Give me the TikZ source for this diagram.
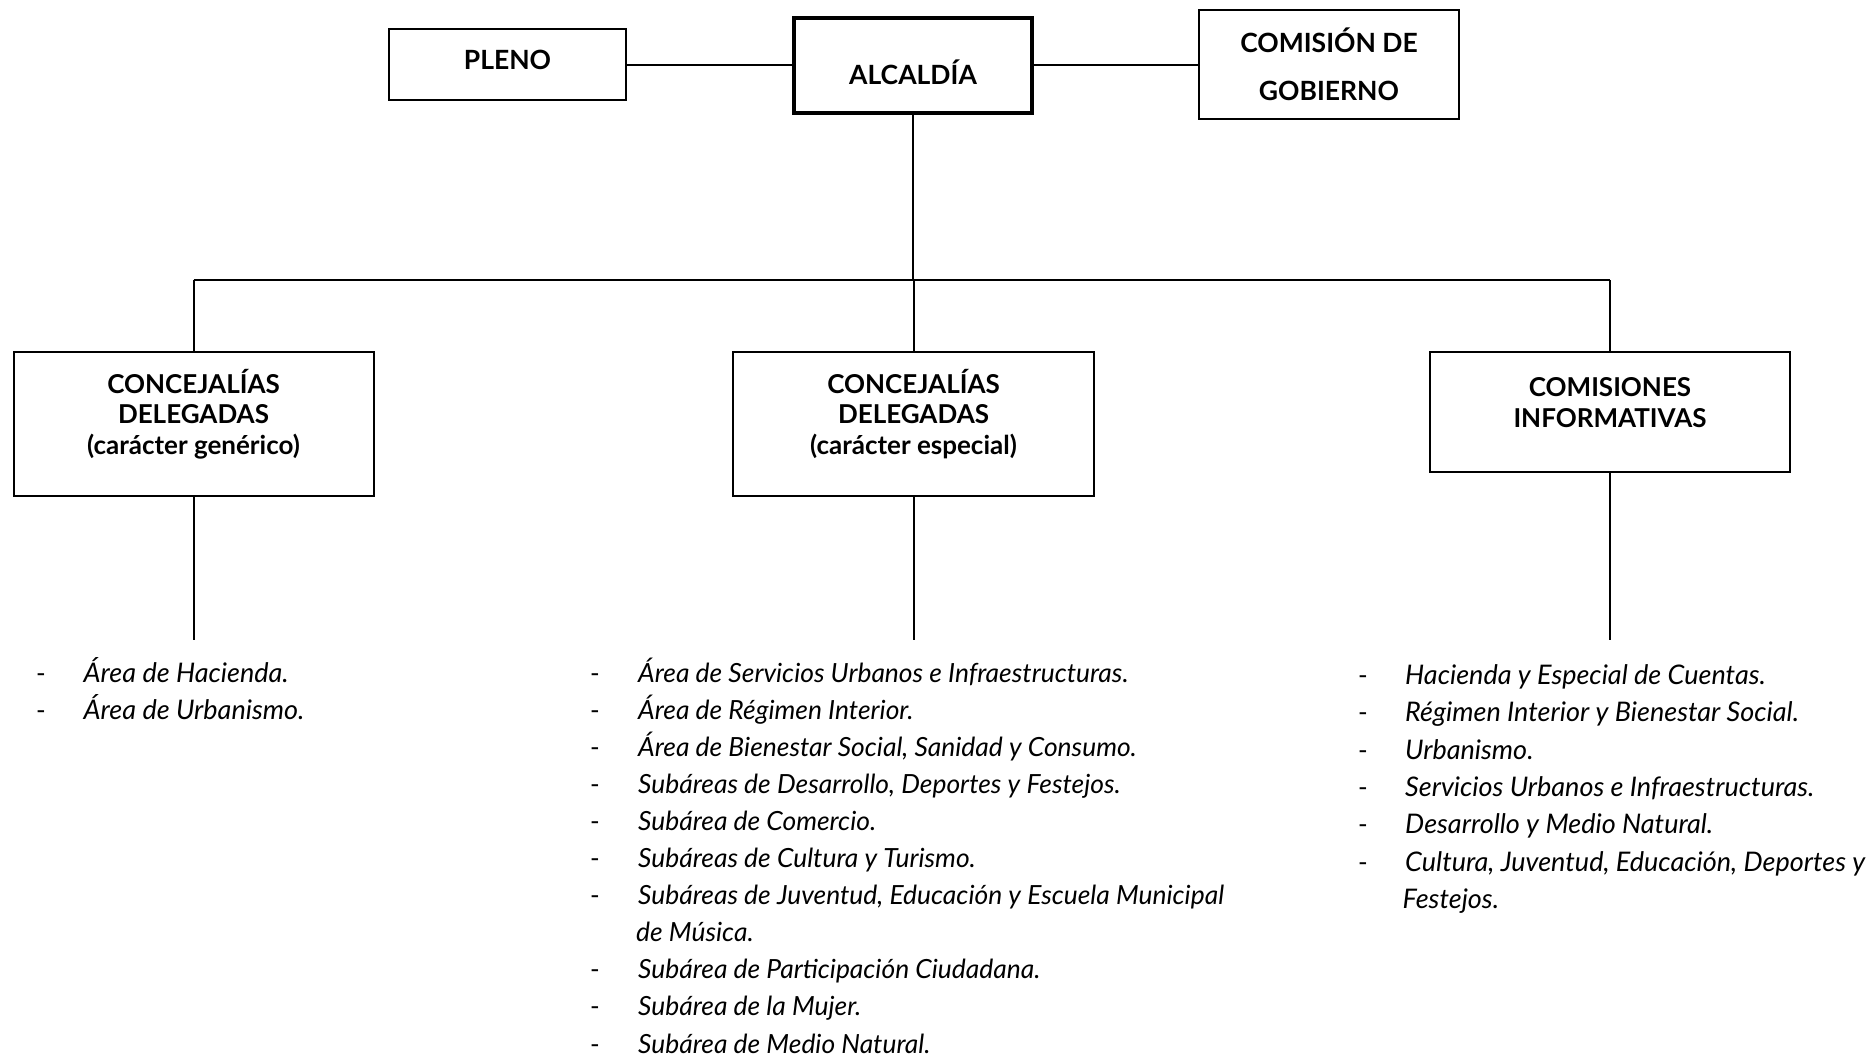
\documentclass[tikz,border=0pt]{standalone}
\usepackage{fontspec}
\setmainfont{Lato}
\begin{document}
\begin{tikzpicture}[x=1pt,y=-1pt,
  box/.style={draw,line width=2pt,inner sep=0pt},
  bigbox/.style={draw,line width=4.5pt,inner sep=0pt},
  toptxt/.style={font=\bfseries\fontsize{26.5}{48}\selectfont,align=center,inner sep=0pt},
  boxtxt/.style={font=\bfseries\fontsize{26}{30.4}\selectfont,align=center,inner sep=0pt},
  conn/.style={line width=2pt},
  itm/.style={font=\itshape\fontsize{27}{37.45}\selectfont,anchor=base west,inner sep=0pt},
  itmm/.style={font=\itshape\fontsize{26.4}{37.45}\selectfont,anchor=base west,inner sep=0pt},
  dsh/.style={font=\fontsize{26}{37.45}\selectfont,anchor=base west,inner sep=0pt}]
\useasboundingbox (0,0) rectangle (1870,1058);
% top row
\node[box,minimum width=237pt,minimum height=71pt] (pleno) at (507.5,64.5) {};
\node[toptxt] (plenot) at (507.5,59.6) {PLENO};
\node[bigbox,minimum width=238pt,minimum height=95pt] (alc) at (913,65.5) {};
\node[toptxt] (alct) at (913,72.7) {ALCALDÍA};
\node[box,minimum width=260pt,minimum height=109pt] (com) at (1329,64.5) {};
\node[toptxt] (comt) at (1329,64.5) {COMISIÓN DE\\GOBIERNO};
\draw[conn] (pleno.east) -- (pleno.east -| alc.west);
\draw[conn] (alc.east |- pleno.east) -- (com.west |- pleno.east);
% second row
\node[box,minimum width=360pt,minimum height=144pt] (b1) at (193.5,424) {};
\node[boxtxt] (b1t) at (193.5,414) {CONCEJALÍAS\\DELEGADAS\\(carácter genérico)};
\node[box,minimum width=361pt,minimum height=144pt] (b2) at (913.5,424) {};
\node[boxtxt] (b2t) at (913.5,414) {CONCEJALÍAS\\DELEGADAS\\(carácter especial)};
\node[box,minimum width=360pt,minimum height=120pt] (b3) at (1610,412) {};
\node[boxtxt] (b3t) at (1610,402.5) {COMISIONES\\INFORMATIVAS};
\coordinate (busL) at (193.5,280);
\coordinate (busR) at (1610,280);
\draw[conn] (busL) -- (busR);
\draw[conn] (alc.south) -- (alc.south |- busL);
\draw[conn] (busL) -- (b1.north);
\draw[conn] (b2.north |- busL) -- (b2.north);
\draw[conn] (busR) -- (b3.north);
\coordinate (e1) at (193.5,640);
\coordinate (e2) at (913.5,640);
\coordinate (e3) at (1610,640);
\draw[conn] (b1.south) -- (e1);
\draw[conn] (b2.south) -- (e2);
\draw[conn] (b3.south) -- (e3);
% left list
\foreach \t [count=\i] in {Área de Hacienda.,Área de Urbanismo.}{
  \node[dsh] (ld\i) at (36,682+37.45*\i-37.45) {-};
  \node[itm] (lt\i) at (83.5,682+37.45*\i-37.45) {\t};
}
% middle list
\foreach \t/\k [count=\i] in {Área de Servicios Urbanos e Infraestructuras./0,Área de Régimen Interior./1,{Área de Bienestar Social, Sanidad y Consumo.}/2,{Subáreas de Desarrollo, Deportes y Festejos.}/3,Subárea de Comercio./4,Subáreas de Cultura y Turismo./5,{Subáreas de Juventud, Educación y Escuela Municipal}/6,Subárea de Participación Ciudadana./8,Subárea de la Mujer./9,Subárea de Medio Natural./10}{
  \node[dsh] (md\i) at (590,682+37.1*\k) {-};
  \node[itmm] (mt\i) at (638,682+37.1*\k) {\t};
}
\node[itmm] (mtc) at (636,682+37.1*7) {de Música.};
% right list
\foreach \t [count=\i] in {Hacienda y Especial de Cuentas.,Régimen Interior y Bienestar Social.,Urbanismo.,Servicios Urbanos e Infraestructuras.,Desarrollo y Medio Natural.,{Cultura, Juventud, Educación, Deportes y}}{
  \node[dsh] (rd\i) at (1358,684.5+37.3*\i-37.3) {-};
  \node[itm] (rt\i) at (1405,684.5+37.3*\i-37.3) {\t};
}
\node[itm] (rtc) at (1402.5,684.5+37.3*6) {Festejos.};
\end{tikzpicture}
\end{document}
